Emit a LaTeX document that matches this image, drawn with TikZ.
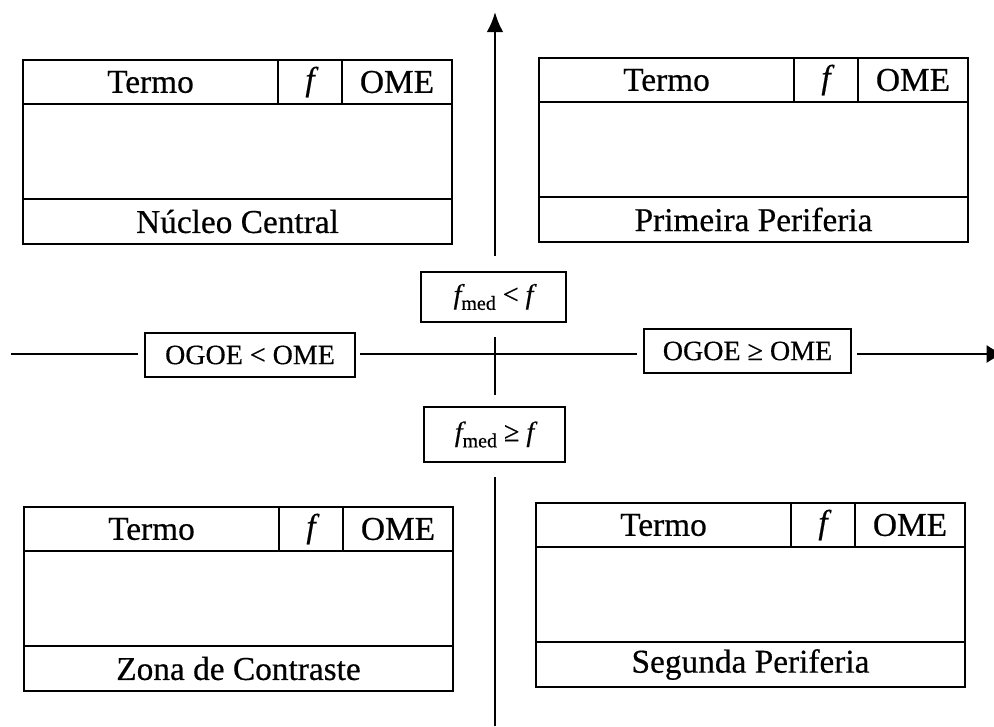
\documentclass[tikz,border=0pt]{standalone}
\usepackage{fontspec}
\setmainfont{Liberation Serif}[FakeBold=0.5]
\usetikzlibrary{arrows.meta}
\tikzset{
  cell/.style={draw, line width=1.3pt, inner sep=0pt, outer sep=0pt, anchor=north west,
    font=\fontsize{25}{28}\selectfont},
  cond/.style={draw, line width=1.2pt, inner sep=0pt, outer sep=0pt,
    font=\fontsize{21}{24}\selectfont},
  vaxis/.style={line width=1.9pt},
  haxis/.style={line width=1.2pt},
}
\newcommand{\qtab}[4]{%
  \node[cell, minimum width={255*0.75pt}, minimum height={44*0.75pt}] (#1-termo) at (#2,#3) {Termo};
  \node[cell, minimum width={64*0.75pt}, minimum height={44*0.75pt}] (#1-f) at (#2+255,#3) {\itshape f};
  \node[cell, minimum width={110*0.75pt}, minimum height={44*0.75pt}] (#1-ome) at (#2+319,#3) {OME};
  \node[cell, minimum width={429*0.75pt}, minimum height={95*0.75pt}] (#1-body) at (#2,#3+44) {};
  \node[cell, minimum width={429*0.75pt}, minimum height={45*0.75pt}] (#1-foot) at (#2,#3+139) {#4};
}
\newcommand{\fmed}{{\itshape f}\raisebox{-0.22em}{\fontsize{15}{16}\selectfont med}}
\begin{document}
\begin{tikzpicture}[x=0.75pt,y=-0.75pt]
  \useasboundingbox (0,0) rectangle (994,726);
  % tables
  \qtab{nc}{23}{60}{Núcleo Central}
  \qtab{pp}{539}{58}{Primeira Periferia}
  \qtab{zc}{24}{507}{Zona de Contraste}
  \qtab{sp}{536}{503}{Segunda Periferia}
  % condition boxes
  \node[cond, minimum width={145*0.75pt}, minimum height={50*0.75pt}] (fl) at (493.5,297) {\fmed\ < {\itshape f}};
  \node[cond, minimum width={141*0.75pt}, minimum height={55*0.75pt}] (fg) at (494.5,434.5) {\fmed\ ≥ {\itshape f}};
  \node[cond, minimum width={210*0.75pt}, minimum height={44*0.75pt}] (ol) at (250,355) {OGOE < OME};
  \node[cond, minimum width={207*0.75pt}, minimum height={44*0.75pt}] (og) at (747.5,351) {OGOE ≥ OME};
  % axis ends
  \coordinate (vtop) at (495,12);
  \coordinate (vbot) at (495,726);
  \coordinate (hl) at (11,354);
  \coordinate (hr) at (1004,354);
  % vertical axis
  \draw[vaxis, shorten <=16*0.75pt, -{Latex[length=15pt, width=12.5pt]}] (fl.north -| vtop) -- (vtop);
  \draw[vaxis, shorten <=15*0.75pt, shorten >=12*0.75pt] (fl.south -| vtop) -- (fg.north -| vtop);
  \draw[vaxis, shorten <=15*0.75pt] (fg.south -| vtop) -- (vbot);
  % horizontal axis
  \draw[haxis, shorten >=7*0.75pt] (hl) -- (ol.west |- hl);
  \draw[haxis, shorten <=5*0.75pt, shorten >=7*0.75pt] (ol.east |- hl) -- (og.west |- hl);
  \draw[haxis, shorten <=6*0.75pt, -{Latex[length=13pt, width=13.5pt]}] (og.east |- hl) -- (hr);
\end{tikzpicture}
\end{document}
